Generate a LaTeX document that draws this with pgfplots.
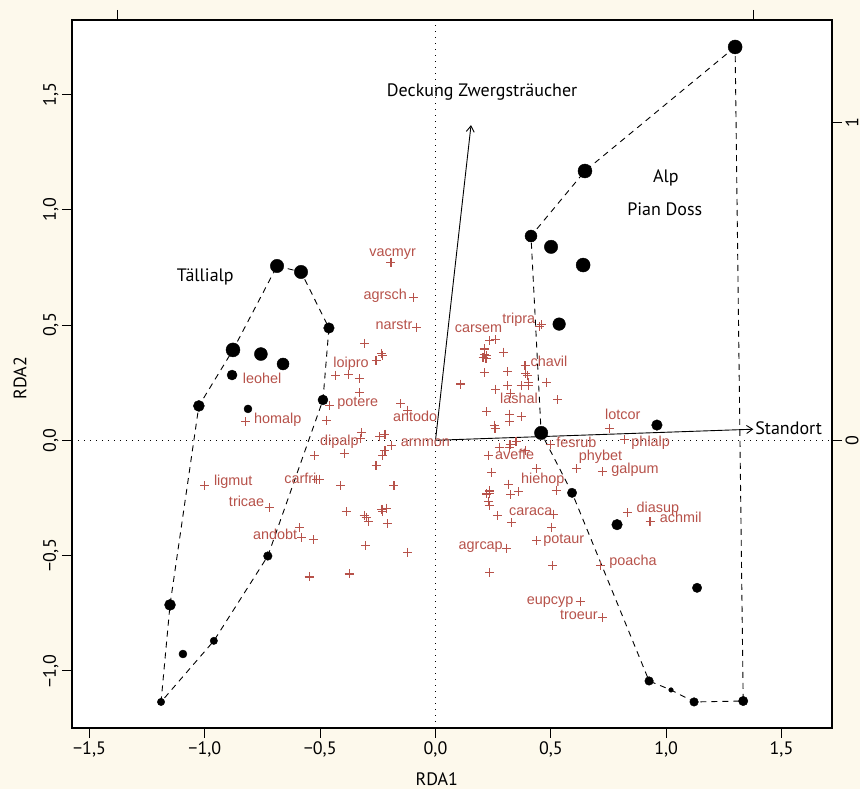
\documentclass[border=0pt]{standalone}
\usepackage{fontspec}
\setmainfont{PT Sans}
\newfontfamily\lab{Liberation Sans}
\usepackage{pgfplots}
\pgfplotsset{compat=1.18}
\usetikzlibrary{arrows.meta}
\definecolor{cream}{RGB}{253,249,236}
\definecolor{spred}{RGB}{183,82,74}
\begin{document}
\begin{tikzpicture}
\fill[cream] (-72pt,-61pt) rectangle (788pt,728pt);
\begin{axis}[
  scale only axis, width=760pt, height=708pt,
  xmin=-1.576, xmax=1.719, ymin=-1.248, ymax=1.823,
  xtick pos=bottom, ytick pos=left,
  tick align=outside, major tick length=10pt,
  xtick={-1.5,-1,-0.5,0,0.5,1,1.5},
  xticklabels={{−1,5},{−1,0},{−0,5},{0,0},{0,5},{1,0},{1,5}},
  ytick={-1,-0.5,0,0.5,1,1.5},
  yticklabels={{−1,0},{−0,5},{0,0},{0,5},{1,0},{1,5}},
  yticklabel style={rotate=90, anchor=south},
  tick label style={font=\fontsize{18}{20}\selectfont},
  xlabel={RDA1}, ylabel={RDA2},
  label style={font=\fontsize{18}{20}\selectfont},
  xlabel style={at={(rel axis cs:0.48,-0.072)}, anchor=center},
  ylabel style={at={(rel axis cs:-0.0684,0.494)}, anchor=center},
  axis background/.style={fill=white},
  axis line style={line width=1.1pt},
  every tick/.style={black, line width=1pt},
]
% dotted zero lines
\addplot[black, line width=0.9pt, dash pattern=on 1.2pt off 4.8pt] coordinates {(-1.576,0) (1.719,0)};
\addplot[black, line width=0.9pt, dash pattern=on 1.2pt off 4.8pt] coordinates {(0,-1.248) (0,1.823)};
% hulls
\addplot[black, line width=0.9pt, dash pattern=on 6pt off 5pt] coordinates {
(-0.687,0.756) (-0.583,0.730) (-0.462,0.487) (-0.488,0.175) (-0.727,-0.502) (-0.961,-0.870) (-1.190,-1.135) (-1.151,-0.714) (-1.026,0.149) (-0.878,0.392) (-0.687,0.756)};
\addplot[black, line width=0.9pt, dash pattern=on 6pt off 5pt] coordinates {
(1.299,1.706) (0.648,1.168) (0.414,0.886) (0.458,0.032) (0.592,-0.228) (0.926,-1.044) (1.021,-1.083) (1.121,-1.135) (1.334,-1.131) (1.299,1.706)};
% species crosses
\addplot[only marks, mark=+, mark size=4.5pt, color=spred, mark options={draw=spred, line width=1.05pt}] table {
x y
-0.193 0.772
-0.096 0.621
-0.082 0.491
-0.306 0.420
-0.234 0.377
-0.229 0.367
-0.258 0.345
-0.433 0.282
-0.376 0.286
-0.330 0.267
-0.330 0.208
-0.458 0.149
-0.472 0.087
-0.150 0.158
-0.121 0.131
0.450 0.494
0.460 0.502
0.236 0.431
0.262 0.438
0.212 0.396
0.212 0.374
0.223 0.366
0.206 0.359
0.219 0.355
0.294 0.382
0.388 0.324
0.212 0.293
0.313 0.297
0.392 0.291
0.400 0.279
0.109 0.244
0.262 0.222
0.313 0.237
0.371 0.237
0.402 0.252
0.402 0.237
0.482 0.252
0.327 0.204
0.530 0.175
0.222 0.124
0.320 0.113
0.320 0.081
0.371 0.102
0.255 0.066
0.258 0.052
0.754 0.052
0.819 0.004
0.277 -0.030
0.319 -0.030
0.323 -0.020
0.349 -0.006
0.392 -0.046
0.497 -0.020
0.229 -0.064
0.244 -0.139
0.439 -0.124
0.612 -0.124
0.723 -0.136
0.523 -0.216
0.316 -0.190
0.233 -0.219
0.233 -0.230
0.222 -0.233
0.236 -0.224
0.327 -0.235
0.359 -0.223
0.229 -0.266
0.233 -0.281
0.511 -0.320
0.268 -0.328
0.330 -0.357
0.504 -0.377
0.439 -0.435
0.309 -0.468
0.508 -0.545
0.236 -0.575
0.716 -0.544
0.627 -0.700
0.725 -0.768
0.832 -0.314
0.930 -0.353
-0.823 0.081
-0.320 0.032
-0.324 0.008
-0.241 0.016
-0.219 0.026
-0.190 -0.023
-0.395 -0.056
-0.523 -0.068
-0.219 -0.046
-0.228 -0.064
-0.258 -0.111
-0.504 -0.169
-0.514 -0.169
-0.410 -0.198
-0.180 -0.198
-1.001 -0.198
-0.721 -0.292
-0.387 -0.311
-0.309 -0.326
-0.301 -0.334
-0.291 -0.354
-0.232 -0.300
-0.212 -0.294
-0.229 -0.310
-0.209 -0.363
-0.580 -0.421
-0.590 -0.379
-0.530 -0.432
-0.304 -0.458
-0.121 -0.486
-0.548 -0.593
-0.374 -0.580
};
% species labels
\addplot[draw=none, nodes near coords, point meta=explicit symbolic,
  every node near coord/.append style={anchor=center, inner sep=0pt, text=spred,
    font=\lab\fontsize{14.4}{16}\selectfont, text height=0.72em, text depth=0.2em}]
  table[meta=lab] {
x y lab
-0.186 0.808 vacmyr
-0.218 0.620 agrsch
-0.180 0.491 narstr
-0.366 0.328 loipro
-0.337 0.156 potere
-0.088 0.091 antodo
-0.752 0.258 leohel
-0.684 0.085 homalp
-0.417 -0.010 dipalp
-0.044 -0.016 arnmon
-0.877 -0.184 ligmut
-0.586 -0.175 carfri
-0.819 -0.276 tricae
-0.695 -0.421 andobt
0.186 0.477 carsem
0.361 0.516 tripra
0.492 0.331 chavil
0.362 0.170 lashal
0.812 0.100 lotcor
0.933 -0.016 phlalp
0.611 -0.019 fesrub
0.343 -0.071 aveffe
0.715 -0.077 phybet
0.865 -0.132 galpum
0.465 -0.175 hiehop
0.413 -0.314 caraca
0.964 -0.302 diasup
1.063 -0.346 achmil
0.556 -0.435 potaur
0.196 -0.464 agrcap
0.856 -0.533 poacha
0.497 -0.700 eupcyp
0.622 -0.765 troeur
};
% arrows
\addplot[black, line width=0.9pt, -{Straight Barb[length=6pt,width=8pt]}] coordinates {(0,0) (0.154,1.367)};
\addplot[black, line width=0.9pt, -{Straight Barb[length=6pt,width=8pt]}] coordinates {(0,0) (1.378,0.048)};
% sites
\addplot[scatter, only marks, mark=*,
  scatter/use mapped color={draw=black, fill=black},
  visualization depends on={\thisrow{r} \as \rad},
  scatter/@pre marker code/.append style={/tikz/mark size=\rad pt}]
  table {
x y r
-0.687 0.756 6.7
-0.583 0.730 6.7
-0.462 0.487 5.3
-0.878 0.392 7
-0.757 0.374 6.5
-0.661 0.331 6
-0.882 0.283 5
-0.813 0.136 4
-1.026 0.149 5.5
-0.488 0.175 5
-0.727 -0.502 4.3
-1.151 -0.714 5.5
-1.095 -0.927 4
-0.961 -0.870 3.7
-1.190 -1.135 3.7
1.299 1.706 7
0.648 1.168 7
0.414 0.886 6
0.501 0.839 6.7
0.640 0.760 7
0.536 0.504 6.3
0.458 0.032 6.7
0.960 0.066 5.3
0.592 -0.228 4.7
0.787 -0.366 5.3
1.134 -0.640 4.7
0.926 -1.044 4.3
1.021 -1.083 2.3
1.121 -1.135 4.3
1.334 -1.131 4.7
};
\node[font=\fontsize{18}{20}\selectfont] at (axis cs:0.202,1.510) {Deckung Zwergsträucher};
\node[font=\fontsize{18}{20}\selectfont, anchor=west, inner sep=0pt] at (axis cs:1.386,0.051) {Standort};
\node[font=\fontsize{18}{20}\selectfont] at (axis cs:-0.998,0.710) {Tällialp};
\node[font=\fontsize{18}{20}\selectfont] at (axis cs:0.999,1.140) {Alp};
\node[font=\fontsize{18}{20}\selectfont] at (axis cs:0.994,1.003) {Pian Doss};
\end{axis}
\begin{axis}[
  scale only axis, width=760pt, height=708pt,
  xmin=-1.143, xmax=1.247, ymin=-0.905, ymax=1.322,
  axis x line*=top, axis y line*=right,
  tick align=outside, major tick length=10pt,
  xtick={-1,1}, xticklabels={},
  ytick={0,1}, yticklabels={0,1},
  yticklabel style={rotate=90, anchor=north},
  tick label style={font=\fontsize{18}{20}\selectfont},
  axis line style={line width=1.1pt},
  every tick/.style={black, line width=1pt},
]
\addplot[draw=none] coordinates {(0,0)};
\end{axis}
\pgfresetboundingbox
\useasboundingbox (-72pt,-61pt) rectangle (788pt,728pt);
\end{tikzpicture}
\end{document}
